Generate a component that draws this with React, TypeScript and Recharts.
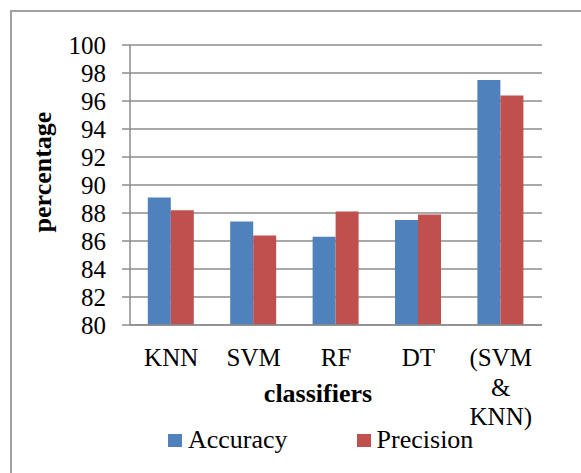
import React from 'react';
import { BarChart, Bar, XAxis, YAxis, CartesianGrid, Legend } from 'recharts';

const categories = ['KNN', 'SVM', 'RF', 'DT', '(SVM & KNN)'];
const accuracy = [89.1, 87.4, 86.3, 87.5, 97.5];
const precision = [88.2, 86.4, 88.1, 87.9, 96.4];
const yTicks = [80, 82, 84, 86, 88, 90, 92, 94, 96, 98, 100];
const seriesNames = ['Accuracy', 'Precision'];
const seriesColors = ['#4F81BD', '#C0504D'];

const data = categories.map((c, i) => ({ name: c, Accuracy: accuracy[i], Precision: precision[i] }));

const FONT = '"Liberation Serif", "Times New Roman", serif';
const GRID = '#8c8c8c';

const CategoryTick = (props: any) => {
  const { x, y, payload } = props;
  const lines = String(payload.value).split(' ');
  return (
    <text x={x} y={y + 41} textAnchor="middle" fontFamily={FONT} fontSize={25} fill="#000">
      {lines.map((l, i) => (
        <tspan key={i} x={x} dy={i === 0 ? 0 : 29.5}>
          {l}
        </tspan>
      ))}
    </text>
  );
};

const XLabel = (props: any) => {
  const vb = props.viewBox || {};
  const cx = vb.x + vb.width / 2 - 18;
  return (
    <text x={cx} y={vb.y + 77} textAnchor="middle" fontFamily={FONT} fontSize={26} fontWeight="bold" fill="#000">
      classifiers
    </text>
  );
};

const YLabel = (props: any) => {
  const vb = props.viewBox || {};
  const x = vb.x - 9;
  const y = vb.y + vb.height / 2 - 13;
  return (
    <text
      x={x}
      y={y}
      textAnchor="middle"
      fontFamily={FONT}
      fontSize={26}
      fontWeight="bold"
      fill="#000"
      transform={`rotate(-90, ${x}, ${y})`}
    >
      percentage
    </text>
  );
};

const LegendContent = () => (
  <div style={{ display: 'flex', alignItems: 'center', paddingLeft: 168, fontFamily: FONT, fontSize: 26, lineHeight: '30px', color: '#000' }}>
    {seriesNames.map((n, i) => (
      <div key={n} style={{ display: 'flex', alignItems: 'center', marginRight: i === 0 ? 69 : 0 }}>
        <span style={{ display: 'inline-block', width: 14, height: 13, background: seriesColors[i], marginRight: 6 }} />
        <span>{n}</span>
      </div>
    ))}
  </div>
);

export default function App() {
  return (
    <div style={{ position: 'absolute', left: 0, top: 0, width: 581, height: 473, background: '#fff', overflow: 'hidden' }}>
      <div
        style={{
          position: 'absolute',
          left: 10,
          top: 10,
          width: 600,
          height: 500,
          borderLeft: '2px solid #a0a0a0',
          borderTop: '2px solid #a0a0a0',
        }}
      />
      <div style={{ position: 'absolute', left: 0, top: 0 }}>
        <BarChart
          width={581}
          height={473}
          data={data}
          margin={{ top: 45, right: 39, left: 60, bottom: 48 }}
          barCategoryGap="21.6%"
          barGap={0}
        >
          <CartesianGrid vertical={false} stroke={GRID} strokeWidth={1.5} />
          <XAxis
            dataKey="name"
            height={100}
            tickLine={false}
            tickSize={0}
            tickMargin={0}
            axisLine={{ stroke: GRID, strokeWidth: 1.5 }}
            tick={<CategoryTick />}
            interval={0}
            label={<XLabel />}
          />
          <YAxis
            domain={[80, 100]}
            ticks={yTicks}
            width={70}
            tickSize={8}
            tickMargin={16}
            interval={0}
            axisLine={{ stroke: GRID, strokeWidth: 1.5 }}
            tickLine={{ stroke: GRID, strokeWidth: 1.5 }}
            tick={{ fontFamily: FONT, fontSize: 25, fill: '#000' }}
            label={<YLabel />}
          />
          <Legend
            layout="horizontal"
            verticalAlign="middle"
            align="center"
            wrapperStyle={{ top: 425, left: 0, width: 581 }}
            content={<LegendContent />}
          />
          <Bar dataKey="Accuracy" fill={seriesColors[0]} isAnimationActive={false} />
          <Bar dataKey="Precision" fill={seriesColors[1]} isAnimationActive={false} />
        </BarChart>
      </div>
    </div>
  );
}
